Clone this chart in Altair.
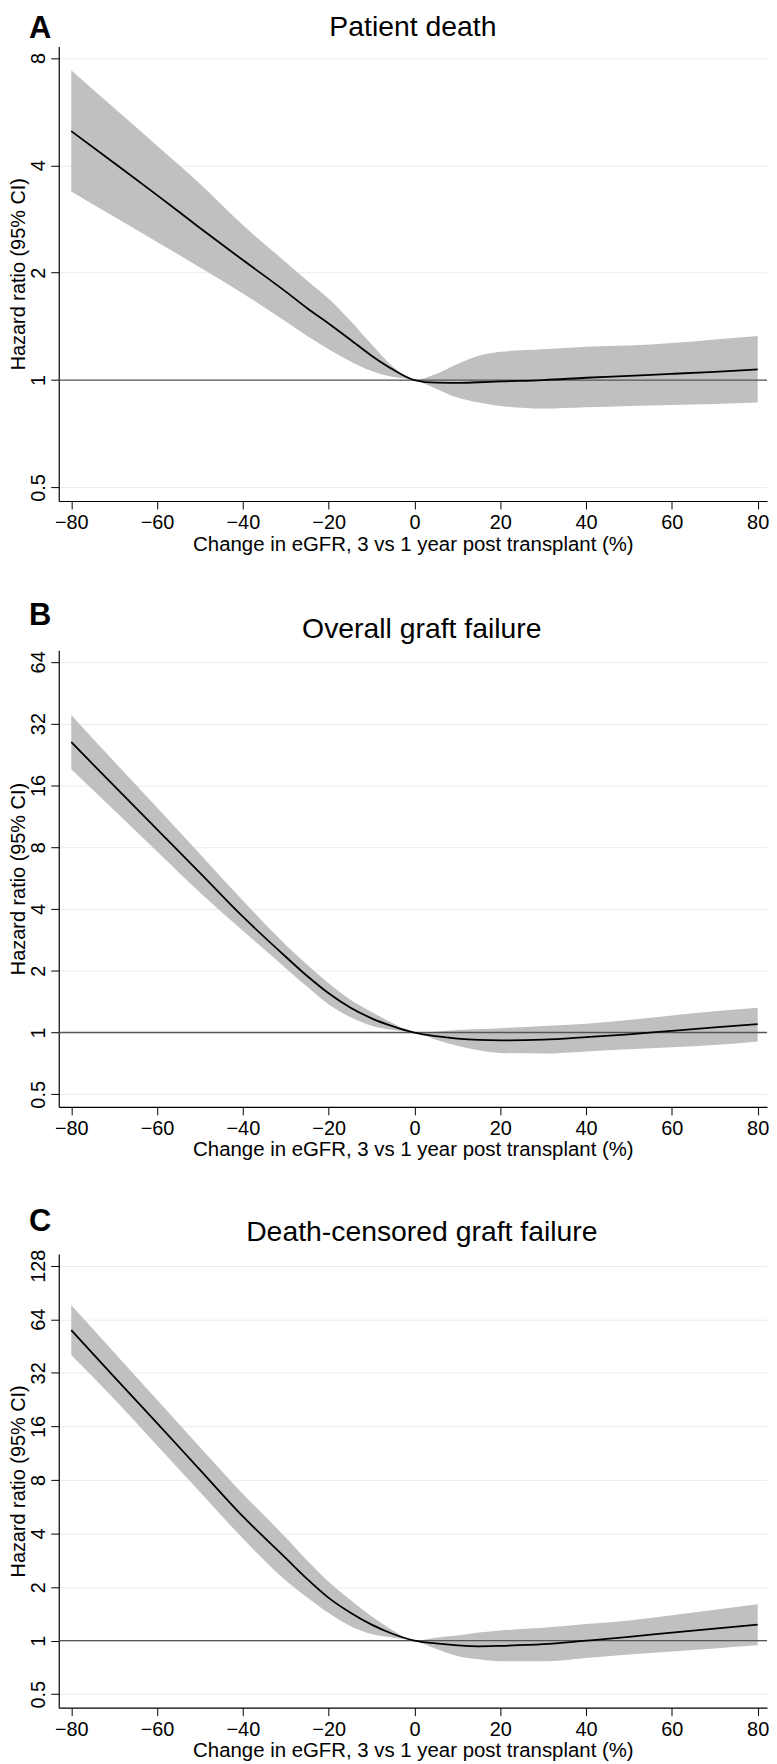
import altair as alt
import pandas as pd

# ---------------- data ----------------
x_vals = [-80, -70, -60, -50, -40, -30, -25, -20, -15, -10, -5, 0, 5, 10, 15, 20, 30, 40, 50, 60, 70, 80]

a_hr = [4.99, 4.06, 3.30, 2.67, 2.17, 1.77, 1.59, 1.44, 1.30, 1.17, 1.07, 1.00, 0.983, 0.982, 0.986, 0.991, 1.00, 1.015, 1.028, 1.041, 1.055, 1.071]
a_hi = [7.39, 5.79, 4.54, 3.55, 2.72, 2.14, 1.90, 1.69, 1.47, 1.26, 1.09, 1.00, 1.04, 1.11, 1.17, 1.20, 1.22, 1.24, 1.25, 1.27, 1.30, 1.33]
a_lo = [3.38, 2.87, 2.44, 2.07, 1.75, 1.46, 1.33, 1.22, 1.13, 1.06, 1.02, 1.00, 0.946, 0.893, 0.865, 0.846, 0.832, 0.839, 0.846, 0.852, 0.857, 0.865]

b_hr = [26.0, 15.9, 9.78, 6.0, 3.67, 2.34, 1.885, 1.553, 1.324, 1.173, 1.072, 1.00, 0.96, 0.934, 0.92, 0.916, 0.923, 0.949, 0.98, 1.02, 1.06, 1.10]
b_hi = [35.3, 20.9, 12.5, 7.42, 4.40, 2.67, 2.14, 1.74, 1.45, 1.26, 1.11, 1.00, 1.01, 1.03, 1.04, 1.05, 1.075, 1.105, 1.15, 1.21, 1.27, 1.32]
b_lo = [19.2, 12.1, 7.62, 4.81, 3.13, 2.06, 1.67, 1.37, 1.19, 1.08, 1.03, 1.00, 0.923, 0.862, 0.82, 0.796, 0.79, 0.809, 0.829, 0.848, 0.869, 0.905]

c_hr = [55.6, 30.4, 16.7, 9.12, 4.99, 2.91, 2.22, 1.74, 1.44, 1.23, 1.09, 1.00, 0.965, 0.942, 0.93, 0.935, 0.955, 1.0, 1.05, 1.11, 1.17, 1.23]
c_hi = [77.0, 41.7, 22.6, 12.2, 6.68, 3.80, 2.82, 2.14, 1.70, 1.37, 1.14, 1.00, 1.04, 1.07, 1.11, 1.14, 1.18, 1.24, 1.30, 1.39, 1.49, 1.60]
c_lo = [40.3, 22.8, 12.5, 6.85, 3.75, 2.18, 1.75, 1.43, 1.21, 1.09, 1.04, 1.00, 0.90, 0.82, 0.785, 0.765, 0.765, 0.80, 0.835, 0.87, 0.905, 0.942]

letters = ["A", "B", "C"]
titles = ["Patient death", "Overall graft failure", "Death-censored graft failure"]
y_ticks_a = [0.5, 1, 2, 4, 8]
y_ticks_b = [0.5, 1, 2, 4, 8, 16, 32, 64]
y_ticks_c = [0.5, 1, 2, 4, 8, 16, 32, 64, 128]
x_ticks = [-80, -60, -40, -20, 0, 20, 40, 60, 80]
x_title = "Change in eGFR, 3 vs 1 year post transplant (%)"
y_title = "Hazard ratio (95% CI)"

FONT = "Liberation Sans"
W = 712
X_DOMAIN = [-82.92, 82.18]


def panel(hr, lo, hi, letter, title, yticks, ydom, height, letter_y, title_x, title_y):
    df = pd.DataFrame({"x": x_vals, "hr": hr, "lo": lo, "hi": hi})
    xs = alt.Scale(domain=X_DOMAIN, nice=False, zero=False)
    ys = alt.Scale(type="log", domain=ydom, nice=False)
    x_axis = alt.Axis(values=x_ticks, grid=False, tickSize=8, labelPadding=4,
                      titlePadding=1.3, titleFontSize=20.5, labelFlush=False,
                      labelOverlap=False)
    y_axis = alt.Axis(values=yticks, grid=True, tickSize=8, labelAngle=270,
                      labelAlign="center", labelBaseline="alphabetic",
                      labelPadding=6, titlePadding=0, titleFontSize=20,
                      labelExpr="'' + datum.value", labelOverlap=False)
    base = alt.Chart(df)
    band = base.mark_area(color="#c0c0c0", interpolate="monotone").encode(
        x=alt.X("x:Q", scale=xs, axis=x_axis, title=x_title),
        y=alt.Y("lo:Q", scale=ys, axis=y_axis, title=y_title),
        y2="hi:Q",
    )
    ref = alt.Chart(pd.DataFrame({"r": [1]})).mark_rule(
        color="#555555", strokeWidth=1.4
    ).encode(y=alt.Y("r:Q", scale=ys))
    line = base.mark_line(color="black", strokeWidth=1.8, interpolate="monotone").encode(
        x=alt.X("x:Q", scale=xs), y=alt.Y("hr:Q", scale=ys)
    )
    lab = alt.Chart(pd.DataFrame({"t": [letter]})).mark_text(
        font=FONT, fontSize=31, fontWeight="bold", align="left",
        baseline="alphabetic", color="black"
    ).encode(x=alt.value(-30), y=alt.value(letter_y), text="t:N")
    ttl = alt.Chart(pd.DataFrame({"t": [title]})).mark_text(
        font=FONT, fontSize=28.5, align="center", baseline="alphabetic", color="black"
    ).encode(x=alt.value(title_x), y=alt.value(title_y), text="t:N")
    return alt.layer(band, ref, line, lab, ttl).properties(width=W, height=height)


pa = panel(a_hr, a_lo, a_hi, letters[0], titles[0], y_ticks_a, [0.458, 8.62], 457, -8.7, 356, -10.9)
pb = panel(b_hr, b_lo, b_hi, letters[1], titles[1], y_ticks_b, [0.4345, 72.9], 459, -25.2, 365, -12.7)
pc = panel(c_hr, c_lo, c_hi, letters[2], titles[2], y_ticks_c, [0.4201, 148.8], 456, -23.3, 365, -12.9)

chart = alt.vconcat(pa, pb, pc, spacing=45).properties(
    padding={"left": 0, "top": 0, "right": 0, "bottom": 0}
).configure_view(stroke=None).configure_axis(
    labelFont=FONT, titleFont=FONT, labelFontSize=20, labelColor="black",
    titleColor="black", titleFontWeight="normal", domainColor="black",
    domainWidth=1.2, tickColor="black", tickWidth=1, gridColor="#ebebeb", gridWidth=1
)

chart.save("out.html", embed_options={"renderer": "svg", "actions": False})
